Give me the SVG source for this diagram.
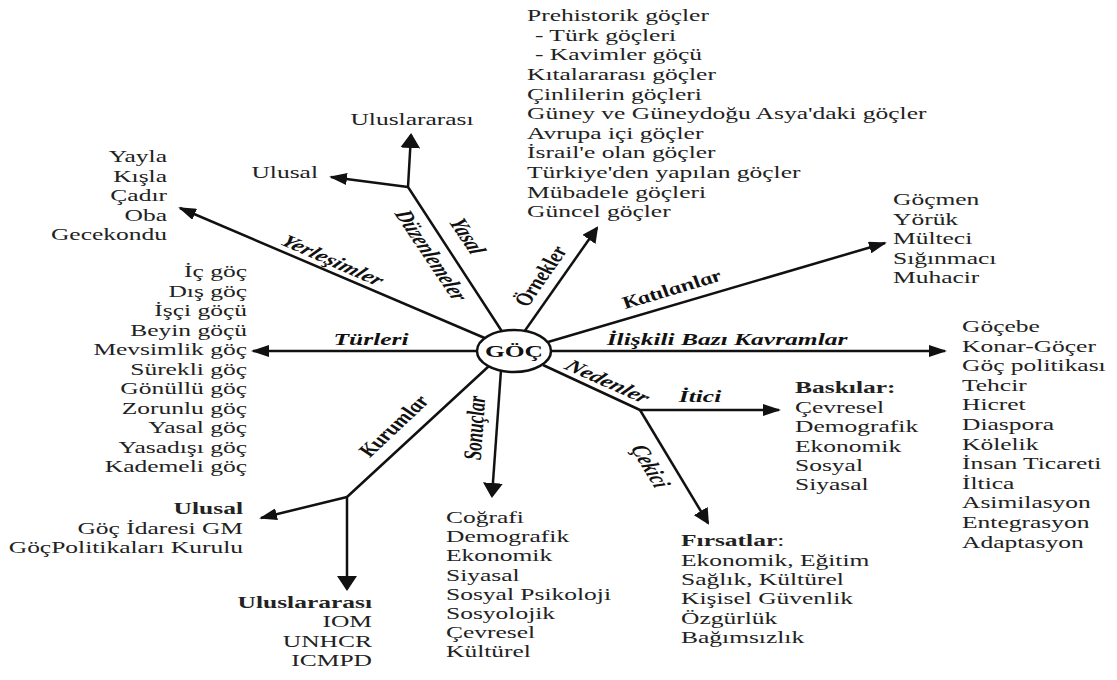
<svg xmlns="http://www.w3.org/2000/svg" width="1117" height="680" viewBox="0 0 1117 680">
<style>
.ln{stroke:#111;stroke-width:2.5;fill:none;stroke-linejoin:round}
.lf{font-family:"Liberation Serif","Times New Roman",serif;font-size:17px;fill:#222}
.lb{font-family:"Liberation Serif","Times New Roman",serif;font-size:17px;font-weight:bold;font-style:italic;fill:#111}
.b{font-weight:bold}
.ctr{font-family:"Liberation Serif","Times New Roman",serif;font-size:17px;font-weight:bold;fill:#111}
</style>
<defs>
<marker id="ah" viewBox="0 0 18 12" markerWidth="18" markerHeight="12" markerUnits="userSpaceOnUse" refX="16" refY="6" orient="auto"><path d="M0,0L18,6L0,12z" fill="#111"/></marker>
<marker id="av" viewBox="0 0 15 20" markerWidth="15" markerHeight="20" markerUnits="userSpaceOnUse" refX="13" refY="10" orient="auto"><path d="M0,0L15,10L0,20z" fill="#111"/></marker>
<marker id="ad" viewBox="0 0 16 16" markerWidth="16" markerHeight="16" markerUnits="userSpaceOnUse" refX="14" refY="8" orient="auto"><path d="M0,0L16,8L0,16z" fill="#111"/></marker>
</defs>
<rect width="1117" height="680" fill="#fff"/>
<g id="connectors">
<path class="ln" d="M480,351 L253,351" marker-end="url(#ah)"/>
<path class="ln" d="M550,351 L945,351" marker-end="url(#ah)"/>
<path class="ln" d="M487,339 L180,208" marker-end="url(#ah)"/>
<path class="ln" d="M503,333 L408,187 L411,135" marker-end="url(#av)"/>
<path class="ln" d="M408,187 L331,177" marker-end="url(#ah)"/>
<path class="ln" d="M524,332 L597,228" marker-end="url(#ad)"/>
<path class="ln" d="M548,342 L885,243" marker-end="url(#ah)"/>
<path class="ln" d="M543,365 L640,410 L779,410" marker-end="url(#ah)"/>
<path class="ln" d="M640,410 L708,523" marker-end="url(#ad)"/>
<path class="ln" d="M501,370 L492,496" marker-end="url(#av)"/>
<path class="ln" d="M489,366 L347,497 L347,589" marker-end="url(#av)"/>
<path class="ln" d="M347,497 L261,518" marker-end="url(#ah)"/>
</g>
<g id="edge-labels">
<g transform="translate(371,0) scale(1.5,1)"><text class="lb" x="0" y="345" text-anchor="middle">Türleri</text></g>
<g transform="translate(727,0) scale(1.5,1)"><text class="lb" x="0" y="345" text-anchor="middle">İlişkili Bazı Kavramlar</text></g>
<g transform="translate(700,0) scale(1.5,1)"><text class="lb" x="0" y="402" text-anchor="middle">İtici</text></g>
<g transform="translate(333,260) scale(1.5,1) rotate(33)"><text class="lb" x="0" y="6" text-anchor="middle">Yerleşimler</text></g>
<g transform="translate(468,236) scale(1.5,1) rotate(65.8)"><text class="lb" x="0" y="6" text-anchor="middle">Yasal</text></g>
<g transform="translate(432,255) scale(1.5,1) rotate(65.8)"><text class="lb" x="0" y="6" text-anchor="middle">Düzenlemeler</text></g>
<g transform="translate(540,276) scale(1.5,1) rotate(-65)"><text class="lb" x="0" y="6" text-anchor="middle">Örnekler</text></g>
<g transform="translate(671,289) scale(1.5,1) rotate(-24)"><text class="lb" x="0" y="6" text-anchor="middle">Katılanlar</text></g>
<g transform="translate(608,381) scale(1.5,1) rotate(33.6)"><text class="lb" x="0" y="6" text-anchor="middle">Nedenler</text></g>
<g transform="translate(651,466) scale(1.5,1) rotate(68.1)"><text class="lb" x="0" y="6" text-anchor="middle">Çekici</text></g>
<g transform="translate(474,428) scale(1.5,1) rotate(-87.2)"><text class="lb" x="0" y="6" text-anchor="middle">Sonuçlar</text></g>
<g transform="translate(393,426) scale(1.5,1) rotate(-54.7)"><text class="lb" x="0" y="6" text-anchor="middle">Kurumlar</text></g>
</g>
<g id="goc">
<ellipse cx="514" cy="351" rx="37" ry="21" fill="#fff" stroke="#111" stroke-width="2.5"/>
<g transform="translate(514,0) scale(1.5,1)"><text class="ctr" x="0" y="357" text-anchor="middle">GÖÇ</text></g>
</g>
<g id="ornekler" transform="translate(527,0) scale(1.5,1)">
<text class="lf" x="0" y="21">Prehistorik göçler</text>
<text class="lf" x="5.3" y="41">- Türk göçleri</text>
<text class="lf" x="5.3" y="60">- Kavimler göçü</text>
<text class="lf" x="0" y="80">Kıtalararası göçler</text>
<text class="lf" x="0" y="100">Çinlilerin göçleri</text>
<text class="lf" x="0" y="119">Güney ve Güneydoğu Asya'daki göçler</text>
<text class="lf" x="0" y="139">Avrupa içi göçler</text>
<text class="lf" x="0" y="158">İsrail'e olan göçler</text>
<text class="lf" x="0" y="178">Türkiye'den yapılan göçler</text>
<text class="lf" x="0" y="198">Mübadele göçleri</text>
<text class="lf" x="0" y="217">Güncel göçler</text>
</g>
<g id="katilanlar" transform="translate(893,0) scale(1.5,1)">
<text class="lf" x="0" y="205">Göçmen</text>
<text class="lf" x="0" y="225">Yörük</text>
<text class="lf" x="0" y="244">Mülteci</text>
<text class="lf" x="0" y="264">Sığınmacı</text>
<text class="lf" x="0" y="283">Muhacir</text>
</g>
<g id="kavramlar" transform="translate(962,0) scale(1.5,1)">
<text class="lf" x="0" y="332">Göçebe</text>
<text class="lf" x="0" y="352">Konar-Göçer</text>
<text class="lf" x="0" y="371">Göç politikası</text>
<text class="lf" x="0" y="391">Tehcir</text>
<text class="lf" x="0" y="410">Hicret</text>
<text class="lf" x="0" y="430">Diaspora</text>
<text class="lf" x="0" y="450">Kölelik</text>
<text class="lf" x="0" y="469">İnsan Ticareti</text>
<text class="lf" x="0" y="489">İltica</text>
<text class="lf" x="0" y="508">Asimilasyon</text>
<text class="lf" x="0" y="528">Entegrasyon</text>
<text class="lf" x="0" y="548">Adaptasyon</text>
</g>
<g id="yerlesimler" transform="translate(167,0) scale(1.5,1)">
<text class="lf" x="0" y="162" text-anchor="end">Yayla</text>
<text class="lf" x="0" y="182" text-anchor="end">Kışla</text>
<text class="lf" x="0" y="201" text-anchor="end">Çadır</text>
<text class="lf" x="0" y="221" text-anchor="end">Oba</text>
<text class="lf" x="0" y="240" text-anchor="end">Gecekondu</text>
</g>
<g id="turleri" transform="translate(247,0) scale(1.5,1)">
<text class="lf" x="0" y="277" text-anchor="end">İç göç</text>
<text class="lf" x="0" y="297" text-anchor="end">Dış göç</text>
<text class="lf" x="0" y="316" text-anchor="end">İşçi göçü</text>
<text class="lf" x="0" y="336" text-anchor="end">Beyin göçü</text>
<text class="lf" x="0" y="355" text-anchor="end">Mevsimlik göç</text>
<text class="lf" x="0" y="375" text-anchor="end">Sürekli göç</text>
<text class="lf" x="0" y="394" text-anchor="end">Gönüllü göç</text>
<text class="lf" x="0" y="414" text-anchor="end">Zorunlu göç</text>
<text class="lf" x="0" y="433" text-anchor="end">Yasal göç</text>
<text class="lf" x="0" y="453" text-anchor="end">Yasadışı göç</text>
<text class="lf" x="0" y="472" text-anchor="end">Kademeli göç</text>
</g>
<g id="yasal-uluslararasi" transform="translate(412,0) scale(1.5,1)">
<text class="lf" x="0" y="125" text-anchor="middle">Uluslararası</text>
</g>
<g id="yasal-ulusal" transform="translate(318,0) scale(1.5,1)">
<text class="lf" x="0" y="178" text-anchor="end">Ulusal</text>
</g>
<g id="kurum-ulusal" transform="translate(243,0) scale(1.5,1)">
<text class="lf b" x="0" y="514" text-anchor="end">Ulusal</text>
<text class="lf" x="0" y="534" text-anchor="end">Göç İdaresi GM</text>
<text class="lf" x="0" y="553" text-anchor="end">GöçPolitikaları Kurulu</text>
</g>
<g id="kurum-uluslararasi" transform="translate(372,0) scale(1.5,1)">
<text class="lf b" x="0" y="608" text-anchor="end">Uluslararası</text>
<text class="lf" x="0" y="627" text-anchor="end">IOM</text>
<text class="lf" x="0" y="647" text-anchor="end">UNHCR</text>
<text class="lf" x="0" y="666" text-anchor="end">ICMPD</text>
</g>
<g id="sonuclar" transform="translate(446,0) scale(1.5,1)">
<text class="lf" x="0" y="523">Coğrafi</text>
<text class="lf" x="0" y="542">Demografik</text>
<text class="lf" x="0" y="561">Ekonomik</text>
<text class="lf" x="0" y="581">Siyasal</text>
<text class="lf" x="0" y="600">Sosyal Psikoloji</text>
<text class="lf" x="0" y="619">Sosyolojik</text>
<text class="lf" x="0" y="638">Çevresel</text>
<text class="lf" x="0" y="657">Kültürel</text>
</g>
<g id="baskilar" transform="translate(795,0) scale(1.5,1)">
<text class="lf b" x="0" y="393">Baskılar:</text>
<text class="lf" x="0" y="413">Çevresel</text>
<text class="lf" x="0" y="432">Demografik</text>
<text class="lf" x="0" y="452">Ekonomik</text>
<text class="lf" x="0" y="471">Sosyal</text>
<text class="lf" x="0" y="490">Siyasal</text>
</g>
<g id="firsatlar" transform="translate(681,0) scale(1.5,1)">
<text class="lf" x="0" y="546"><tspan class="b">Fırsatlar</tspan>:</text>
<text class="lf" x="0" y="566">Ekonomik, Eğitim</text>
<text class="lf" x="0" y="585">Sağlık, Kültürel</text>
<text class="lf" x="0" y="604">Kişisel Güvenlik</text>
<text class="lf" x="0" y="624">Özgürlük</text>
<text class="lf" x="0" y="643">Bağımsızlık</text>
</g>
</svg>
